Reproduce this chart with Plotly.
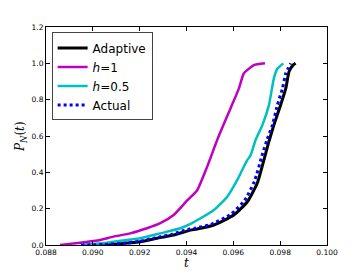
import plotly.graph_objects as go

t_adaptive = [0.0896, 0.0906, 0.09131, 0.09203, 0.09274, 0.09345, 0.09417, 0.09445, 0.09517,
              0.09602, 0.0966, 0.09702, 0.09731, 0.09752, 0.09773, 0.09802, 0.09824, 0.09838,
              0.09855, 0.09866]
p_adaptive = [0, 0.003, 0.009, 0.018, 0.037, 0.055, 0.082, 0.088, 0.11,
              0.165, 0.238, 0.34, 0.47, 0.57, 0.66, 0.771, 0.862, 0.955,
              0.99, 1.0]

t_h1 = [0.0886, 0.08946, 0.09031, 0.09088, 0.0916, 0.09231, 0.09288, 0.09345, 0.09403,
        0.09445, 0.09488, 0.09531, 0.09588, 0.09624, 0.09645, 0.09688, 0.09735]
p_h1 = [0, 0.013, 0.028, 0.046, 0.064, 0.092, 0.12, 0.165, 0.245,
        0.30, 0.43, 0.578, 0.752, 0.862, 0.945, 0.99, 1.0]

t_h05 = [0.0895, 0.0906, 0.09146, 0.09203, 0.09288, 0.09374, 0.09417, 0.0946, 0.09517,
         0.09574, 0.09617, 0.09638, 0.0966, 0.09674, 0.09695, 0.09724, 0.09752, 0.09773,
         0.09788, 0.09813]
p_h05 = [0, 0.013, 0.028, 0.037, 0.064, 0.092, 0.116, 0.147, 0.193,
         0.266, 0.358, 0.413, 0.468, 0.495, 0.578, 0.66, 0.77, 0.917,
         0.97, 1.0]

t_actual = [0.0895, 0.0905, 0.09125, 0.09195, 0.09265, 0.09335, 0.09405, 0.09435, 0.09505,
            0.0959, 0.09648, 0.0969, 0.09722, 0.09744, 0.09767, 0.09788, 0.0981, 0.09824,
            0.09845]
p_actual = [0, 0.003, 0.009, 0.019, 0.039, 0.058, 0.086, 0.092, 0.114,
            0.17, 0.245, 0.35, 0.49, 0.58, 0.66, 0.77, 0.862, 0.945,
            1.0]

x_ticks = [0.088, 0.090, 0.092, 0.094, 0.096, 0.098, 0.100]
y_ticks = [0.0, 0.2, 0.4, 0.6, 0.8, 1.0, 1.2]

shape = dict(shape="spline", smoothing=0.5)

fig = go.Figure()
fig.add_trace(go.Scatter(x=t_adaptive, y=p_adaptive, mode="lines", name="Adaptive",
                         line=dict(color="#000000", width=3, **shape)))
fig.add_trace(go.Scatter(x=t_h1, y=p_h1, mode="lines", name="<i>h</i>=1",
                         line=dict(color="#bf00bf", width=2.5, **shape)))
fig.add_trace(go.Scatter(x=t_h05, y=p_h05, mode="lines", name="<i>h</i>=0.5",
                         line=dict(color="#00bfbf", width=2.5, **shape)))
fig.add_trace(go.Scatter(x=t_actual, y=p_actual, mode="lines", name="Actual",
                         line=dict(color="#0000ff", width=3, dash="dot", **shape)))

axis_common = dict(showgrid=False, zeroline=False, showline=True, linecolor="black",
                   linewidth=1, mirror="ticks", ticks="inside", ticklen=4, tickcolor="black",
                   tickfont=dict(family="DejaVu Sans", size=7.5, color="black"))

fig.update_layout(
    width=363, height=273,
    margin=dict(l=46, r=36, t=27, b=28),
    paper_bgcolor="white", plot_bgcolor="white",
    xaxis=dict(range=[0.088, 0.100], tickvals=x_ticks,
               ticktext=[f"{v:.3f}" for v in x_ticks], **axis_common),
    yaxis=dict(range=[0, 1.2], tickvals=y_ticks,
               ticktext=[f"{v:.1f}" for v in y_ticks], **axis_common),
    legend=dict(x=0.02, y=0.975, xanchor="left", yanchor="top",
                bgcolor="white", bordercolor="#444444", borderwidth=1,
                font=dict(family="DejaVu Sans", size=12, color="black"),
                tracegroupgap=0),
    showlegend=True,
    annotations=[
        dict(text="<i>t</i>", xref="paper", yref="paper", x=0.499, y=-0.083,
             xanchor="center", yanchor="middle", showarrow=False,
             font=dict(family="DejaVu Serif", size=12, color="black")),
        dict(text="<i>P<sub>N</sub></i>(<i>t</i>)", xref="paper", yref="paper",
             x=-0.089, y=0.5, xanchor="center", yanchor="middle", textangle=-90,
             showarrow=False,
             font=dict(family="DejaVu Serif", size=12, color="black")),
    ],
)

fig.write_html("out.html", config={"displayModeBar": False},
               post_script="document.body.style.margin='0';")
